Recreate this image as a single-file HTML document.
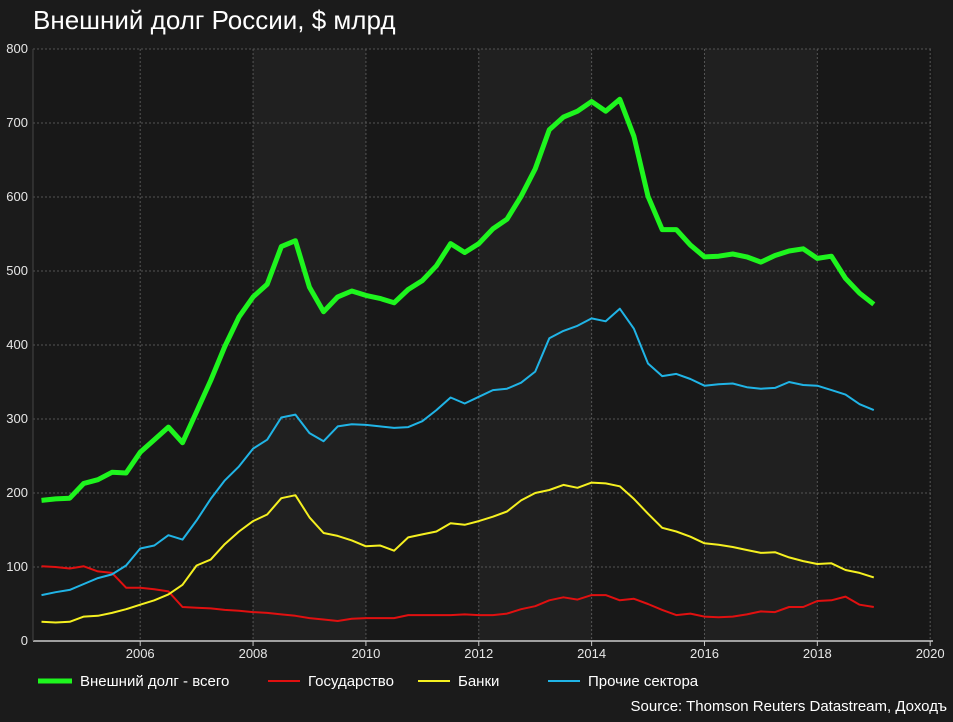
<!DOCTYPE html>
<html><head><meta charset="utf-8"><style>
body{margin:0;background:#1b1b1b;width:953px;height:717px;overflow:hidden;font-family:"Liberation Sans",sans-serif;}
</style></head><body>
<svg width="953" height="717" xmlns="http://www.w3.org/2000/svg">
<rect x="0" y="0" width="953" height="717" fill="#1b1b1b"/>
<text x="33" y="29" fill="#ffffff" font-size="26" font-family="Liberation Sans, sans-serif">Внешний долг России, $ млрд</text>
<g id="plot"></g>
<g id="legend" font-size="15" fill="#ffffff" font-family="Liberation Sans, sans-serif">
<line x1="38" y1="681" x2="72" y2="681" stroke="#1ef51e" stroke-width="5"/>
<text x="80" y="686" fill="#fff">Внешний долг - всего</text>
<line x1="268" y1="681" x2="300" y2="681" stroke="#e01010" stroke-width="2"/>
<text x="308" y="686" fill="#fff">Государство</text>
<line x1="418" y1="681" x2="450" y2="681" stroke="#f5f020" stroke-width="2"/>
<text x="458" y="686" fill="#fff">Банки</text>
<line x1="548" y1="681" x2="580" y2="681" stroke="#20b4e6" stroke-width="2"/>
<text x="588" y="686" fill="#fff">Прочие сектора</text>
</g>
<text x="947" y="711" text-anchor="end" fill="#ffffff" font-size="15" font-family="Liberation Sans, sans-serif">Source: Thomson Reuters Datastream, Доходъ</text>
</svg>
<script>
const startYear = 2004.25;
const total = [190,192,193,213,218,228,227,255,272,289,268,310,352,398,438,465,482,533,541,478,445,465,473,467,463,457,475,487,507,537,525,537,557,570,601,638,691,708,716,729,716,732,682,601,556,556,535,519,520,523,519,512,521,527,530,517,520,490,470,455];
const other = [62,66,69,77,85,90,102,125,129,143,137,163,192,217,236,260,272,302,306,281,270,290,293,292,290,288,289,297,312,329,321,330,339,341,349,364,409,419,426,436,432,449,422,375,358,361,354,345,347,348,343,341,342,350,346,345,339,333,320,312];
const banks = [26,25,26,33,34,38,43,49,55,63,76,102,110,131,148,162,171,193,197,167,146,142,136,128,129,122,140,144,148,159,157,162,168,175,190,200,204,211,207,214,213,209,192,172,153,148,141,132,130,127,123,119,120,113,108,104,105,96,92,86];
const gov = [101,100,98,101,94,92,72,72,70,67,46,45,44,42,41,39,38,36,34,31,29,27,30,31,31,31,35,35,35,35,36,35,35,37,43,47,55,59,56,62,62,55,57,50,42,35,37,33,32,33,36,40,39,46,46,54,55,60,49,46];
const yTicks = [0,100,200,300,400,500,600,700,800];
const xTicks = [2006,2008,2010,2012,2014,2016,2018,2020];

const NS = "http://www.w3.org/2000/svg";
const L = 33, R = 933, T = 49, B = 641;
const xMin = 2004.1, xMax = 2020.05;
function xs(t){ return L + (t - xMin) / (xMax - xMin) * (R - L); }
function ys(v){ return B - v / 800 * (B - T); }
const g = document.getElementById('plot');
function mk(tag, attrs){ const e = document.createElementNS(NS, tag); for (const k in attrs) e.setAttribute(k, attrs[k]); g.appendChild(e); return e; }

const bg = mk('rect', {x: L, y: T, width: R-L, height: B-T, fill: '#181818'});


const bandStarts = [2008, 2012, 2016];
bandStarts.forEach(s => {
  const b = mk('rect', {x: xs(s), y: T, width: xs(s+2)-xs(s), height: B-T, fill: '#202020'});
  
  
});

yTicks.forEach(v => {
  const y = ys(v);
  if (v > 0) {
    const ln = mk('line', {x1: L, x2: R, y1: y, y2: y, stroke: '#555', 'stroke-dasharray': '2,2', 'stroke-width': 1});
    
    
  }
  const t = mk('text', {x: L-5, y: y+4, 'text-anchor': 'end', fill: '#e6e6e6', 'font-size': 13});
  t.textContent = v;
  
  
});
xTicks.forEach(v => {
  const x = xs(v);
  const ln = mk('line', {x1: x, x2: x, y1: T, y2: B, stroke: '#555', 'stroke-dasharray': '2,2', 'stroke-width': 1});
  
  
  const tk = mk('line', {x1: x, x2: x, y1: B, y2: B+5, stroke: '#ccc'});
  
  
  const t = mk('text', {x: x, y: B+17, 'text-anchor': 'middle', fill: '#e6e6e6', 'font-size': 13});
  t.textContent = v;
  
  
});
const ax = mk('line', {x1: L, x2: R, y1: B, y2: B, stroke: '#ccc', 'stroke-width': 1.5});


const ay = mk('line', {x1: L, x2: L, y1: T, y2: B, stroke: '#444', 'stroke-width': 1});



function series(arr, color, w, name){
  const pts = arr.map((v,i) => xs(startYear + 0.25*i).toFixed(1) + ',' + ys(v).toFixed(1)).join(' ');
  const p = mk('polyline', {points: pts, fill: 'none', stroke: color, 'stroke-width': w, 'stroke-linejoin': 'round'});
  
  
}
series(gov, '#e01010', 2, 'line-government');
series(banks, '#f5f020', 2, 'line-banks');
series(other, '#20b4e6', 2, 'line-other-sectors');
series(total, '#1ef51e', 5, 'line-total-debt');
</script>
</body></html>
